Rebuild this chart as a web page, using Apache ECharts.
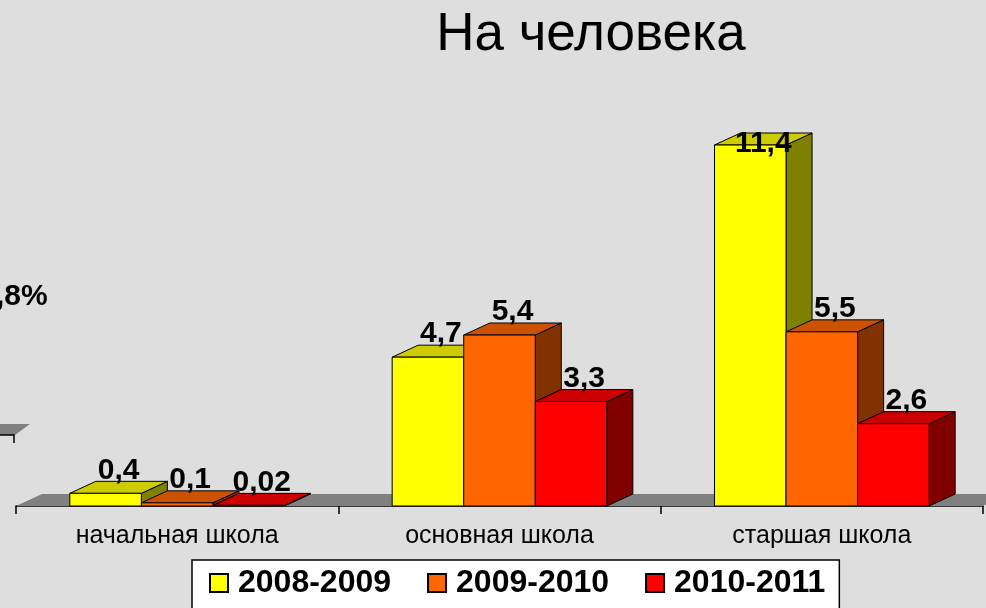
<!DOCTYPE html>
<html>
<head>
<meta charset="utf-8">
<script src="https://cdn.jsdelivr.net/npm/echarts@6/dist/echarts.min.js"></script>
<style>
  html, body { margin: 0; padding: 0; background: #dedede; }
  #chart { width: 986px; height: 608px; }
</style>
</head>
<body>
<div id="chart"></div>
<script>
// данные
var categories = ['начальная школа', 'основная школа', 'старшая школа'];
var years = ['2008-2009', '2009-2010', '2010-2011'];
var v2008 = [0.4, 4.7, 11.4];
var v2009 = [0.1, 5.4, 5.5];
var v2010 = [0.02, 3.3, 2.6];

// цвета: лицевая, верх, бок
var palette = [
  ['#ffff00', '#cccc00', '#808000'],
  ['#ff6600', '#cc5200', '#803300'],
  ['#ff0000', '#cc0000', '#800000']
];
var DX = 26, DY = 12, BAR_RATIO = 0.222;
var FONT = '"Liberation Sans", Arial, sans-serif';

function fmt(v) {
  return String(v).replace('.', ',');
}

function boxRenderer(k) {
  return function (params, api) {
    var ci = api.value(0);
    var v = api.value(1);
    var base = api.coord([ci, 0]);
    var top = api.coord([ci, v]);
    var band = api.size([1, 0])[0];
    var w = band * BAR_RATIO;
    var x0 = base[0] - 1.5 * w + k * w;
    var yb = base[1], yt = top[1];
    var c = palette[k];
    var line = { stroke: '#000', lineWidth: 1 };
    var labelY = Math.max(yt - DY + 4, params.coordSys.y + 33);
    return {
      type: 'group',
      children: [
        { type: 'polygon', shape: { points: [[x0 + w, yt], [x0 + w + DX, yt - DY], [x0 + w + DX, yb - DY], [x0 + w, yb]] },
          style: Object.assign({ fill: c[2] }, line) },
        { type: 'polygon', shape: { points: [[x0, yt], [x0 + w, yt], [x0 + w + DX, yt - DY], [x0 + DX, yt - DY]] },
          style: Object.assign({ fill: c[1] }, line) },
        { type: 'rect', shape: { x: x0, y: yt, width: w, height: yb - yt },
          style: Object.assign({ fill: c[0] }, line) },
        { type: 'text', z2: 10, style: {
            text: fmt(v), x: x0 + w / 2 + DX / 2, y: labelY,
            textAlign: 'center', textVerticalAlign: 'bottom',
            font: 'bold 30px ' + FONT, fill: '#000' } }
      ]
    };
  };
}

function floorRenderer(params, api) {
  var cs = params.coordSys;
  var yb = cs.y + cs.height;
  return {
    type: 'polygon',
    shape: { points: [[cs.x, yb], [cs.x + cs.width, yb], [cs.x + cs.width + DX, yb - DY], [cs.x + DX, yb - DY]] },
    style: { fill: '#808080' }
  };
}

var chart = echarts.init(document.getElementById('chart'));
var seriesData = [v2008, v2009, v2010];
var series = [{
  type: 'custom',
  name: 'floor',
  renderItem: floorRenderer,
  data: [[0, 0]],
  silent: true,
  z: 1
}];
years.forEach(function (y, k) {
  series.push({
    type: 'custom',
    name: y,
    renderItem: boxRenderer(k),
    itemStyle: { color: palette[k][0], borderColor: '#000', borderWidth: 1 },
    encode: { x: 0, y: 1 },
    data: seriesData[k].map(function (v, i) { return [i, v]; }),
    z: 2
  });
});

var option = {
  backgroundColor: '#dedede',
  animation: false,
  title: {
    text: 'На человека',
    left: 586,
    textAlign: 'center',
    top: 4,
    textStyle: { fontFamily: FONT, fontSize: 53, fontWeight: 'normal', color: '#000' }
  },
  legend: {
    data: years,
    left: 192,
    top: 560,
    icon: 'rect',
    itemWidth: 18,
    itemHeight: 18,
    itemGap: 36,
    padding: [7, 14, 12, 17],
    backgroundColor: '#fff',
    borderColor: '#000',
    borderWidth: 1.5,
    textStyle: { fontFamily: FONT, fontSize: 32, fontWeight: 'bold', color: '#000', padding: [0, 0, 0, 5] }
  },
  grid: { left: 16, right: 3, top: 126, bottom: 102 },
  xAxis: {
    type: 'category',
    data: categories,
    axisLine: { lineStyle: { color: '#000', width: 1.5 } },
    axisTick: { show: true, length: 8, lineStyle: { color: '#000', width: 1.5 } },
    axisLabel: { color: '#000', fontSize: 25, margin: 18, fontFamily: FONT }
  },
  yAxis: {
    type: 'value',
    min: 0,
    max: 12,
    show: false
  },
  graphic: [
    // обрезанный фрагмент соседней диаграммы слева
    { type: 'text', left: -4, top: 282, style: { text: ',8%', font: 'bold 30px ' + FONT, fill: '#000' } },
    { type: 'polygon', shape: { points: [[0, 435], [15, 435], [30, 424], [0, 424]] }, style: { fill: '#808080' } },
    { type: 'polyline', shape: { points: [[0, 435], [14, 435], [14, 443]] }, style: { stroke: '#000', lineWidth: 1.5, fill: null } }
  ],
  series: series
};
chart.setOption(option);
</script>
</body>
</html>
